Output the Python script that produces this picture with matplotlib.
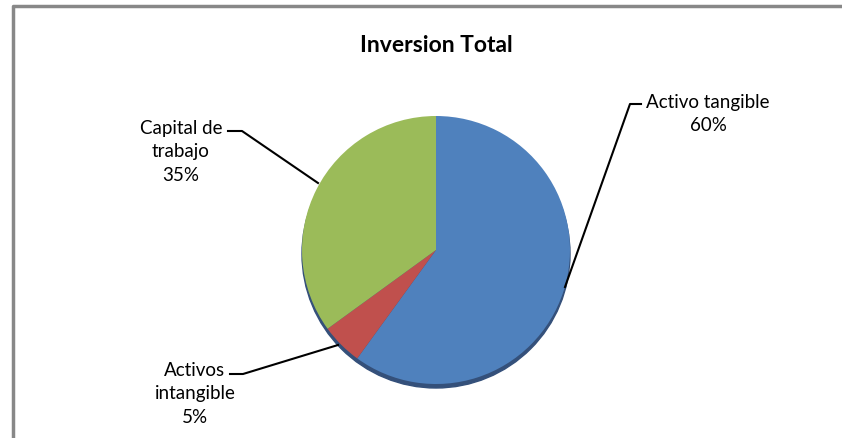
import matplotlib.pyplot as plt
from matplotlib.patches import Circle

# datos del grafico
categorias = ["Activo tangible", "Activos\nintangible", "Capital de\ntrabajo"]
porcentajes = [60, 5, 35]
colores = ["#4F81BD", "#C0504D", "#9BBB59"]
titulo = "Inversion Total"

W, H = 842, 438
fig = plt.figure(figsize=(W / 100, H / 100), dpi=100)
ax = fig.add_axes([0, 0, 1, 1])

cx, cy, r = 436, H - 250, 134

# sombra inferior del pastel
ax.add_patch(Circle((cx, cy - 4), r, color="#34507a", zorder=1))
ax.pie(porcentajes, colors=colores, startangle=90, counterclock=False,
       radius=r, center=(cx, cy), wedgeprops=dict(linewidth=0, zorder=2))

ax.set_xlim(0, W)
ax.set_ylim(0, H)
ax.set_aspect("auto")
ax.axis("off")

# marco gris recortado
ax.plot([13, 13, W], [0, H - 6, H - 6], color="#888888", lw=2.5, zorder=0)

fuente = "Lato"
ax.text(cx, H - 46, titulo, ha="center", va="center", fontsize=16.5,
        fontweight="bold", family=fuente)

etiquetas = [f"{c}\n{p}%" for c, p in zip(categorias, porcentajes)]
pos_texto = [(708, H - 114), (195, H - 394), (181, H - 152)]
lineas = [
    ([565, 630, 641], [H - 287, H - 104, H - 104]),
    ([338, 243, 230], [H - 345, H - 374, H - 374]),
    ([318, 242, 228], [H - 183, H - 131, H - 131]),
]
for txt, (tx, ty), (lx, ly) in zip(etiquetas, pos_texto, lineas):
    ax.text(tx, ty, txt, ha="center", va="center", fontsize=13.5,
            family=fuente, linespacing=1.45)
    ax.plot(lx, ly, color="black", lw=1.5, zorder=3)

fig.savefig("out.png", dpi=100)
